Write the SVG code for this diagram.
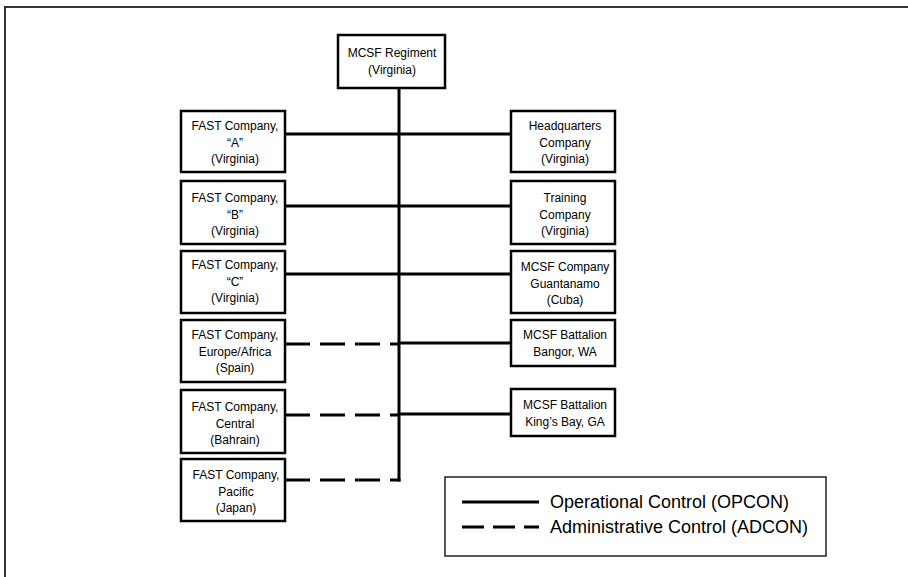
<svg xmlns="http://www.w3.org/2000/svg" width="908" height="577" viewBox="0 0 908 577">
<style>
.box{fill:#fff;stroke:#000;stroke-width:2.5}
.t{font-family:"Liberation Sans",Arial,sans-serif;font-size:12px;fill:#000;text-anchor:middle}
.lt{font-family:"Liberation Sans",Arial,sans-serif;font-size:18px;fill:#000}
.solid{stroke:#000;stroke-width:3;fill:none}
.dash{stroke:#000;stroke-width:3;fill:none;stroke-dasharray:25 10}
</style>
<rect width="908" height="577" fill="#fff"/>
<path d="M5,577 V7 H908" fill="none" stroke="#333" stroke-width="2"/>
<g id="connectors">
<line class="solid" x1="399" y1="88" x2="399" y2="481.5"/>
<line class="solid" x1="285" y1="134" x2="511" y2="134"/>
<line class="solid" x1="285" y1="206" x2="511" y2="206"/>
<line class="solid" x1="285" y1="274" x2="511" y2="274"/>
<line class="dash" x1="285" y1="344" x2="399" y2="344"/>
<line class="solid" x1="399" y1="343" x2="511" y2="343"/>
<line class="dash" x1="285" y1="415" x2="399" y2="415"/>
<line class="solid" x1="399" y1="414" x2="511" y2="414"/>
<line class="dash" x1="285" y1="480" x2="400.5" y2="480"/>
</g>
<g id="regiment"><rect class="box" x="338" y="35" width="107" height="53"/><text class="t" x="392" y="57">MCSF Regiment</text><text class="t" x="392" y="74">(Virginia)</text></g>
<g id="fast-a"><rect class="box" x="181" y="111" width="104" height="61"/><text class="t" x="235" y="130">FAST Company,</text><text class="t" x="235" y="146.5">“A”</text><text class="t" x="235" y="163">(Virginia)</text></g>
<g id="fast-b"><rect class="box" x="181" y="181" width="104" height="63"/><text class="t" x="235" y="202">FAST Company,</text><text class="t" x="235" y="218.5">“B”</text><text class="t" x="235" y="235">(Virginia)</text></g>
<g id="fast-c"><rect class="box" x="181" y="251" width="104" height="62"/><text class="t" x="235" y="269">FAST Company,</text><text class="t" x="235" y="285.5">“C”</text><text class="t" x="235" y="302">(Virginia)</text></g>
<g id="fast-europe"><rect class="box" x="181" y="320" width="104" height="62"/><text class="t" x="235" y="339">FAST Company,</text><text class="t" x="235" y="355.5">Europe/Africa</text><text class="t" x="235" y="372">(Spain)</text></g>
<g id="fast-central"><rect class="box" x="181" y="390" width="104" height="63"/><text class="t" x="235" y="411">FAST Company,</text><text class="t" x="235" y="427.5">Central</text><text class="t" x="235" y="444">(Bahrain)</text></g>
<g id="fast-pacific"><rect class="box" x="181" y="459" width="104" height="62"/><text class="t" x="236" y="479">FAST Company,</text><text class="t" x="236" y="495.5">Pacific</text><text class="t" x="236" y="512">(Japan)</text></g>
<g id="hq"><rect class="box" x="511" y="111" width="104" height="61"/><text class="t" x="565" y="130">Headquarters</text><text class="t" x="565" y="146.5">Company</text><text class="t" x="565" y="163">(Virginia)</text></g>
<g id="training"><rect class="box" x="511" y="181" width="104" height="63"/><text class="t" x="565" y="202">Training</text><text class="t" x="565" y="218.5">Company</text><text class="t" x="565" y="235">(Virginia)</text></g>
<g id="guantanamo"><rect class="box" x="511" y="251" width="104" height="62"/><text class="t" x="565" y="271">MCSF Company</text><text class="t" x="565" y="287.5">Guantanamo</text><text class="t" x="565" y="304">(Cuba)</text></g>
<g id="bangor"><rect class="box" x="511" y="320" width="104" height="46"/><text class="t" x="565" y="339">MCSF Battalion</text><text class="t" x="565" y="355.5">Bangor, WA</text></g>
<g id="kingsbay"><rect class="box" x="511" y="389" width="104" height="47"/><text class="t" x="565" y="409">MCSF Battalion</text><text class="t" x="565" y="425.5">King’s Bay, GA</text></g>
<g id="legend">
<rect x="445" y="477" width="381" height="79" fill="#fff" stroke="#222" stroke-width="1.5"/>
<line class="solid" x1="462" y1="502" x2="539" y2="502"/>
<line x1="462" y1="527" x2="539" y2="527" stroke="#000" stroke-width="3" stroke-dasharray="22 9"/>
<text class="lt" x="550" y="508">Operational Control (OPCON)</text>
<text class="lt" x="550" y="533">Administrative Control (ADCON)</text>
</g>
</svg>
